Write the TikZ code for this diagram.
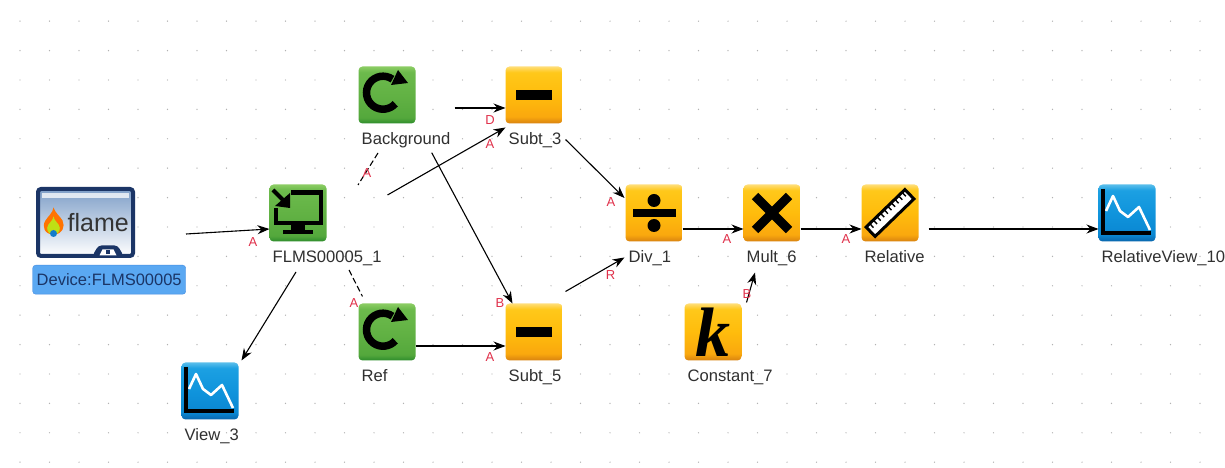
\documentclass[tikz,border=0pt]{standalone}
\usepackage{fontspec}
\setmainfont{Liberation Sans}
\newfontfamily\kfont{Liberation Serif}
\usetikzlibrary{arrows.meta, positioning}

\definecolor{navy}{HTML}{1B3566}
\definecolor{redlabel}{HTML}{E0304A}
\definecolor{captiontext}{HTML}{303030}
\definecolor{labelfill}{HTML}{5AA8F2}
\definecolor{labeldraw}{HTML}{468CE1}
\definecolor{screentop}{HTML}{7F9FC8}
\definecolor{screenmid}{HTML}{B4C8E0}
\definecolor{greena}{HTML}{2C8C2C}
\definecolor{greenb}{HTML}{54A83C}
\definecolor{greenc}{HTML}{62B244}
\definecolor{greend}{HTML}{6CBA4C}
\definecolor{greene}{HTML}{8CCD64}
\definecolor{ambera}{HTML}{D88210}
\definecolor{amberb}{HTML}{FAA80E}
\definecolor{amberc}{HTML}{FFBC0C}
\definecolor{amberd}{HTML}{FFC81A}
\definecolor{ambere}{HTML}{FFDE78}
\definecolor{bluea}{HTML}{0A64AA}
\definecolor{blueb}{HTML}{0A87D2}
\definecolor{bluec}{HTML}{1094DC}
\definecolor{blued}{HTML}{1CA0E2}
\definecolor{bluee}{HTML}{5ABEEB}

\pgfdeclareverticalshading{greenshade}{100bp}{color(0bp)=(greena); color(25bp)=(greena);
  color(30bp)=(greenb); color(50bp)=(greenc); color(70bp)=(greend); color(75bp)=(greene); color(100bp)=(greene)}
\pgfdeclareverticalshading{ambershade}{100bp}{color(0bp)=(ambera); color(25bp)=(ambera);
  color(31bp)=(amberb); color(50bp)=(amberc); color(70bp)=(amberd); color(75bp)=(ambere); color(100bp)=(ambere)}
\pgfdeclareverticalshading{blueshade}{100bp}{color(0bp)=(bluea); color(25bp)=(bluea);
  color(31bp)=(blueb); color(50bp)=(bluec); color(70bp)=(blued); color(75bp)=(bluee); color(100bp)=(bluee)}

\tikzset{
  icon/.style={rounded corners=4pt, minimum width=57pt, minimum height=57pt, inner sep=0pt, outer sep=0pt},
  greenicon/.style={icon, shading=greenshade},
  ambericon/.style={icon, shading=ambershade},
  blueicon/.style={icon, shading=blueshade},
  caption of/.style={below=8pt of #1.south west, anchor=north west, xshift=3pt, yshift=-1pt, inner sep=0pt,
    font=\fontsize{16.6}{18}\selectfont, text=captiontext, text height=12pt, text depth=3pt},
  port/.style={font=\fontsize{13}{13}\selectfont, text=redlabel, inner sep=0pt},
  wire/.style={draw=black, line width=1.1pt, -{Stealth[length=12pt,width=9pt]}},
  stub/.style={draw=black, line width=1.1pt, dash pattern=on 6pt off 3pt},
  griddot/.style={fill=black!30},
  redoglyph/.pic={
    \draw [line width=7.5pt] (-4,2.3) ++(55:16.5) arc (55:318:16.5);
    \fill (11,25) -- (21,12) -- (4,10) -- cycle;
  },
  minusglyph/.pic={\fill (-18,-5) rectangle (18,5);},
  divglyph/.pic={
    \fill (-21.5,-4) rectangle (21.5,4);
    \fill (0,12.5) circle (6.5);
    \fill (0,-12.5) circle (6.5);
  },
  multglyph/.pic={
    \draw [line width=9pt] (-17,17) -- (17,-17);
    \draw [line width=9pt] (-17,-17) -- (17,17);
  },
  rulerglyph/.pic={
    \begin{scope}[rotate=44]
      \draw [fill=white, line width=3pt] (-27,-6.5) rectangle (27,6.5);
      \foreach \t in {-22,-17,...,23} {\draw [line width=1.4pt] (\t,6.5) -- (\t,1);}
    \end{scope}
  },
  chartglyph/.pic={
    \draw [white, line width=2.6pt, line join=round] (-21,2) -- (-14,17) -- (-7,2) -- (1,-4) -- (12,6) -- (23,-17);
    \draw [line width=3.2pt, line join=miter] (-24,24) -- (-24,-20) -- (24,-20);
  },
  importglyph/.pic={
    \draw [line width=4.6pt] (-7,20.5) -- (23,20.5) -- (23,-10) -- (-22,-10) -- (-22,5);
    \fill (-7,-10) rectangle (7,-17);
    \fill (-15,-17) rectangle (15,-21);
    \draw [line width=4pt] (-25,23) -- (-14,12);
    \fill (-23,7) -- (-8,5) -- (-8,20) -- cycle;
  },
}

\begin{document}
\begin{tikzpicture}[x=1pt,y=1pt]
    \useasboundingbox (0,0) rectangle (1225,468);
    \fill [white] (0,0) rectangle (1225,468);
    \foreach \i in {0,...,41} {
      \foreach \j in {0,...,15} {
        \fill [griddot] (20+29.5*\i,446.8-29.4*\j) circle (0.7);
      }
    }

    % device
    \node [draw=navy, line width=4pt, rounded corners=3pt, minimum width=95pt, minimum height=67pt, inner sep=0pt,
      top color=screentop, middle color=screenmid, bottom color=white] (flame) at (85.5,245.5) {};
    \fill [white, opacity=0.75] ([xshift=6pt,yshift=-6pt]flame.north west) rectangle ([xshift=-6pt,yshift=-11pt]flame.north east);
    \node [font=\fontsize{25}{25}\selectfont, text=black!80, inner sep=0pt, right=4pt of flame.center, xshift=-22pt] (flameword) {flame};
    \begin{scope}[shift={(flame.center)}]
      \fill [navy, rounded corners=3pt] (7,-33) -- (13,-23) -- (32,-23) -- (38,-33) -- cycle;
      \fill [white] (14,-33) -- (17,-27) -- (28,-27) -- (31,-33) -- cycle;
      \fill [navy] (20,-31.5) rectangle (24,-27.5);
      \begin{scope}[shift={(-32,0)}]
        \fill [orange!90!red] (0,-12) .. controls (-9,-12) and (-12,-4) .. (-8,2) .. controls (-5,7) and (-1,9) .. (0,15)
          .. controls (2,9) and (6,7) .. (9,2) .. controls (12,-4) and (9,-12) .. (0,-12);
        \fill [yellow!75!green] (0,-12) .. controls (-6,-12) and (-8,-6) .. (-5,-2) .. controls (-3,1) and (-1,2) .. (0,6)
          .. controls (1,2) and (3,1) .. (5,-2) .. controls (8,-6) and (6,-12) .. (0,-12);
        \fill [cyan!60!blue] (0,-11) circle (3.5);
      \end{scope}
    \end{scope}
    \node [draw=labeldraw, fill=labelfill, rounded corners=3pt, minimum width=153pt, minimum height=29pt, inner sep=0pt,
      text=navy, font=\fontsize{16.5}{18}\selectfont, below=5pt of flame.south west, anchor=north west, xshift=-3.5pt, yshift=-2pt, text width=146pt, align=center] (devicelabel) {Device:FLMS00005};

    % blocks
    \node [greenicon] (flms) at (298,255) {};
    \node [greenicon, above right=61pt and 32pt of flms] (background) {};
    \node [greenicon, below right=62pt and 32pt of flms] (rcf) {};
    \node [ambericon, right=90pt of background] (subt3) {};
    \node [ambericon, right=90pt of rcf] (subt5) {};
    \node [ambericon, right=299pt of flms] (div) {};
    \node [ambericon, right=61pt of div] (mult) {};
    \node [ambericon, right=61pt of mult] (relative) {};
    \node [blueicon, right=180pt of relative] (relview) {};
    \node [blueicon, below left=121pt and 31pt of flms] (view) {};
    \node [ambericon, below left=62pt and 2pt of mult, font=\kfont\bfseries\itshape\fontsize{70}{70}\selectfont] (constant) {k};

    \pic at (flms) {importglyph};
    \pic at (background) {redoglyph};
    \pic at (rcf) {redoglyph};
    \pic at (subt3) {minusglyph};
    \pic at (subt5) {minusglyph};
    \pic at (div) {divglyph};
    \pic at (mult) {multglyph};
    \pic at (relative) {rulerglyph};
    \pic at (relview) {chartglyph};
    \pic at (view) {chartglyph};

    \node [caption of=flms] (flmscap) {FLMS00005\_1};
    \node [caption of=background] (backgroundcap) {Background};
    \node [caption of=rcf] (rcfcap) {Ref};
    \node [caption of=subt3] (subt3cap) {Subt\_3};
    \node [caption of=subt5] (subt5cap) {Subt\_5};
    \node [caption of=div] (divcap) {Div\_1};
    \node [caption of=mult] (multcap) {Mult\_6};
    \node [caption of=relative] (relativecap) {Relative};
    \node [caption of=relview] (relviewcap) {RelativeView\_10};
    \node [caption of=view] (viewcap) {View\_3};
    \node [caption of=constant] (constantcap) {Constant\_7};

    % free ends of the connectors
    \coordinate (flameout) at (186,234);
    \coordinate (flmsdown) at (296,196);
    \coordinate (flmsright) at (387.5,273);
    \coordinate (rcfstub) at (349,198);
    \coordinate (bgstubtop) at (378,315);
    \coordinate (bgstubend) at (358,283);
    \coordinate (bgdown) at (431.7,315.3);

    \draw [wire] (flameout) -- ([yshift=-16pt]flms.west);
    \draw [wire] (flmsdown) -- ([xshift=3pt,yshift=2pt]view.north east);
    \draw [stub] (rcfstub) -- ([xshift=4pt,yshift=7pt]rcf.north west);
    \draw [stub] (bgstubtop) -- (bgstubend);
    \draw [wire] (flmsright) -- ([yshift=-4pt]subt3.south west);
    \draw [wire] ([xshift=39pt,yshift=-13pt]background.east) -- ([yshift=-13pt]subt3.west);
    \draw [wire] (bgdown) -- ([xshift=7pt]subt5.north west);
    \draw [wire] ([yshift=-14pt]rcf.east) -- ([yshift=-14pt]subt5.west);
    \draw [wire] ([xshift=3pt,yshift=12pt]subt5.north east) -- ([xshift=-1pt,yshift=-16pt]div.south west);
    \draw [wire] ([xshift=3pt,yshift=-16pt]subt3.south east) -- ([xshift=-1pt,yshift=15pt]div.west);
    \draw [wire] ([yshift=-16pt]div.east) -- ([yshift=-16pt]mult.west);
    \draw [wire] ([yshift=-16pt]mult.east) -- ([yshift=-16pt]relative.west);
    \draw [wire] ([xshift=10pt,yshift=-16pt]relative.east) -- ([yshift=-16pt]relview.west);
    \draw [wire] ([xshift=5pt,yshift=1pt]constant.north east) -- ([xshift=-17pt,yshift=-31pt]mult.south);

    % terminal letters
    \node [port] (pflms) at (253,226) {A};
    \node [port] (pbg) at (367,295) {A};
    \node [port] (psubt3b) at (490,347.5) {D};
    \node [port] (psubt3a) at (490,324) {A};
    \node [port] (prcf) at (354,165) {A};
    \node [port] (psubt5b) at (500,165) {B};
    \node [port] (psubt5a) at (490,111) {A};
    \node [port] (pdivb) at (610.5,193) {R};
    \node [port] (pdiva) at (611,266) {A};
    \node [port] (pmulta) at (727,229) {A};
    \node [port] (prelative) at (846,229) {A};
    \node [port] (pmultb) at (747,174) {B};
\end{tikzpicture}
\end{document}
